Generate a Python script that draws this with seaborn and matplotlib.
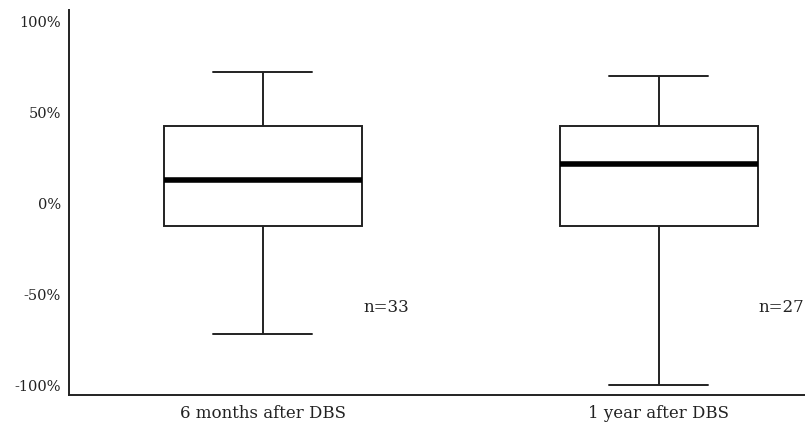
import pandas as pd
import matplotlib
matplotlib.use("Agg")
import matplotlib.pyplot as plt
import seaborn as sns

# five-number summaries (min, Q1, median, Q3, max), in %
groups = ["6 months after DBS", "1 year after DBS"]
six_months = [-72, -12.4, 13, 42.7, 72.5]
one_year = [-100, -12.4, 22, 42.7, 70.2]
n_labels = ["n=33", "n=27"]
yticks = [-100, -50, 0, 50, 100]

df = pd.DataFrame({
    "group": [groups[0]] * len(six_months) + [groups[1]] * len(one_year),
    "change": six_months + one_year,
})

sns.set_style("white")
plt.rcParams["font.family"] = ["DejaVu Serif"]

fig = plt.figure(figsize=(8.05, 4.26), dpi=100)
ax = fig.add_axes([0.0857, 0.0728, 0.9143, 0.9037])

line = dict(color="#222222", linewidth=1.4)
sns.boxplot(data=df, x="group", y="change", order=groups, whis=(0, 100),
            width=0.5, color="white", linecolor="#222222", linewidth=1.4,
            boxprops=dict(facecolor="white", edgecolor="#222222", linewidth=1.4),
            whiskerprops=line, capprops=line,
            medianprops=dict(color="black", linewidth=4),
            showfliers=False, ax=ax)

for i, lab in enumerate(n_labels):
    ax.text(i + 0.2525, -57.5, lab, ha="left", va="center", fontsize=12, color="#222222")

ax.set_xlim(-0.49, 1.369)
ax.set_ylim(-105.5, 106.6)
ax.set_yticks(yticks)
ax.set_yticklabels([f"{v}%" for v in yticks], fontsize=10.5)
ax.tick_params(axis="x", labelsize=12, length=0, pad=7, labelcolor="#222222")
ax.tick_params(axis="y", length=0, pad=6, labelcolor="#222222")
ax.set_xlabel("")
ax.set_ylabel("")
for s in ["top", "right"]:
    ax.spines[s].set_visible(False)
for s in ["left", "bottom"]:
    ax.spines[s].set_color("#222222")
    ax.spines[s].set_linewidth(1.4)

fig.savefig("out.png", dpi=100)
